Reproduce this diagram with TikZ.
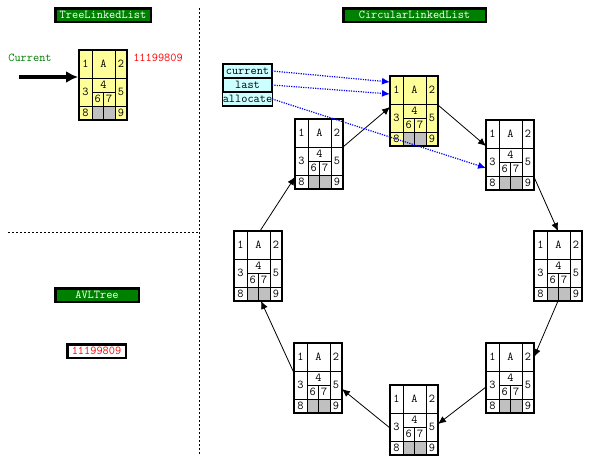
\documentclass[tikz,border=0pt]{standalone}
\usetikzlibrary{arrows.meta}
\definecolor{lblgreen}{RGB}{0,128,0}
\definecolor{memyellow}{RGB}{255,255,153}
\definecolor{memgray}{RGB}{192,192,192}
\definecolor{ptrcyan}{RGB}{204,255,255}
\newcommand\memfont{\fontsize{12}{13}\selectfont\ttfamily}
\tikzset{
  title/.style={draw=black,line width=2.5pt,fill=lblgreen,text=white,font=\memfont,inner sep=0pt,outer sep=0pt,minimum height=13.5pt},
  numbox/.style={draw=black,line width=2.5pt,fill=white,text=red,font=\memfont,inner sep=0pt,outer sep=0pt,minimum height=13.5pt,minimum width=58.5pt},
  ptrcell/.style={draw=black,line width=1.2pt,fill=ptrcyan,font=\memfont,inner sep=0pt,outer sep=0pt,minimum width=49pt,minimum height=14pt},
  block/.style={rectangle,inner sep=0pt,outer sep=0pt,minimum width=48pt,minimum height=70pt},
  blockline/.style={line width=2pt},
  cellline/.style={line width=0.8pt},
  digit/.style={font=\memfont,inner sep=0pt},
  link/.style={->,line width=0.8pt},
  pointer/.style={->,blue,line width=1.2pt,dash pattern=on 1.2pt off 1.2pt},
  divider/.style={line width=1pt,dash pattern=on 2pt off 2pt}
}
\newcommand\memblock[4]{%
  \node[block,fill=#4] (#1) at (#2+24,#3+35) {};
  \begin{scope}[shift={(#2,#3)}]
    \fill[memgray] (13,56) rectangle (36,70);
    \draw[cellline] (13,0)--(13,70) (36,0)--(36,70) (0,28)--(48,28) (0,56)--(48,56)
      (13,42)--(36,42) (24.5,42)--(24.5,70);
    \node[digit] at (6.5,14) {1};
    \node[digit] at (24.5,14) {A};
    \node[digit] at (42,14) {2};
    \node[digit] at (6.5,42) {3};
    \node[digit] at (24.5,35) {4};
    \node[digit] at (42,42) {5};
    \node[digit] at (18.75,49) {6};
    \node[digit] at (30.25,49) {7};
    \node[digit] at (6.5,63) {8};
    \node[digit] at (42,63) {9};
    \draw[blockline] (0,0) rectangle (48,70);
  \end{scope}
}
\begin{document}
\begin{tikzpicture}[x=1pt,y=-1pt,>={Latex[length=8pt,width=7pt]}]
\useasboundingbox[fill=white] (0,0) rectangle (591,463);
\draw[divider] (199,8)--(199,455);
\draw[divider] (8,232)--(199,232);
\node[title,minimum width=95.5pt] (treetitle) at (103,15) {TreeLinkedList};
\node[title,minimum width=142.5pt] (circtitle) at (414.5,15) {CircularLinkedList};
\node[title,minimum width=83.5pt] (avltitle) at (97,295) {AVLTree};
\node[numbox] (avlnum) at (96.5,351) {11199809};
\memblock{b1}{79}{50}{memyellow}
\node[digit,text=lblgreen] (curlabel) at (30,58) {Current};
\node[digit,text=red] (treenum) at (158,58) {11199809};
\coordinate (curstart) at (19,77);
\draw[-{Latex[length=12pt,width=12pt]},line width=4pt,shorten >=1pt] (curstart) -- (curstart -| b1.west);
\memblock{b2}{390}{76}{memyellow}
\memblock{b3}{486}{120}{white}
\memblock{b4}{534}{231}{white}
\memblock{b5}{486}{343}{white}
\memblock{b6}{390}{385}{white}
\memblock{b7}{294}{343}{white}
\memblock{b8}{234}{231}{white}
\memblock{b9}{295}{119}{white}
\node[ptrcell] (pcur) at (247.5,71) {current};
\node[ptrcell] (plast) at (247.5,85) {last};
\node[ptrcell] (palloc) at (247.5,99) {allocate};
\draw[link] ([yshift=-28pt]b9.north east) -- ([yshift=-31pt]b2.north west);
\draw[link] ([yshift=-29pt]b2.north east) -- ([yshift=-26pt]b3.north west);
\draw[link] ([yshift=-57pt]b3.north east) -- (b4.north);
\draw[link] (b4.south) -- ([yshift=-14pt]b5.north east);
\draw[link] ([yshift=-44pt]b5.north west) -- ([yshift=-39pt]b6.north east);
\draw[link] ([yshift=-43pt]b6.north west) -- ([yshift=-46pt]b7.north east);
\draw[link] ([yshift=-30pt]b7.north west) -- ([xshift=3pt]b8.south);
\draw[link] ([xshift=2pt]b8.north) -- ([yshift=-58pt]b9.north west);
\draw[pointer] (pcur.east) -- ([yshift=-6pt]b2.north west);
\draw[pointer] (plast.east) -- ([yshift=-18pt]b2.north west);
\draw[pointer] (palloc.east) -- ([yshift=-48pt]b3.north west);
\end{tikzpicture}
\end{document}
